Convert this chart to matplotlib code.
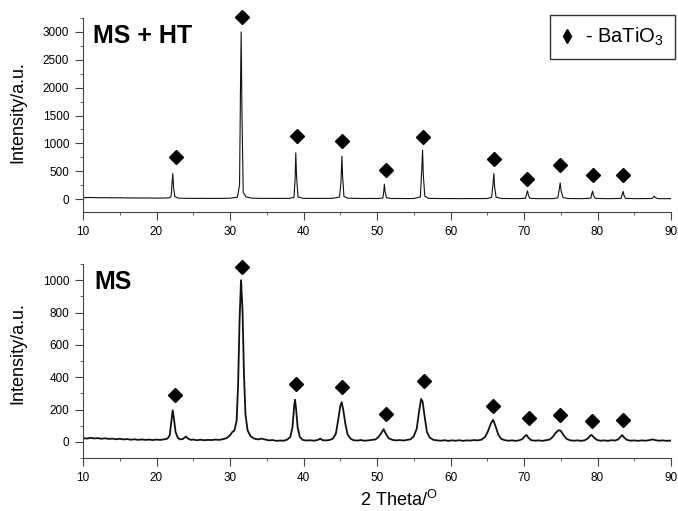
import matplotlib
matplotlib.use("Agg")
from matplotlib import pyplot as plt
from matplotlib.lines import Line2D
from matplotlib.ticker import MultipleLocator

plt.rcParams["font.family"] = ["Liberation Sans", "DejaVu Sans"]
plt.rcParams["mathtext.fontset"] = "custom"
plt.rcParams["mathtext.rm"] = "Liberation Sans"
plt.rcParams["mathtext.it"] = "Liberation Sans:italic"

# --- MS + HT pattern (sharp peaks), 2theta / intensity
tth_ht = [10, 11, 12, 13, 14, 15, 16, 17, 18, 19, 20, 21, 21.8,
          22.0, 22.12, 22.22, 22.32, 22.5, 23, 24, 25, 26, 27, 28, 29, 30, 31.0,
          31.3, 31.42, 31.52, 31.62, 31.8, 32.2, 33, 34, 35, 36, 37, 38, 38.7,
          38.85, 38.95, 39.05, 39.25, 40, 41, 42, 43, 44, 44.9,
          45.1, 45.22, 45.32, 45.5, 46, 47, 48, 49, 50, 50.8,
          50.92, 51.0, 51.1, 51.3, 52, 53, 54, 55, 55.9,
          56.08, 56.2, 56.3, 56.5, 57, 58, 59, 60, 61, 62, 63, 64, 65, 65.6,
          65.8, 65.9, 66.0, 66.2, 67, 68, 69, 70.2,
          70.38, 70.48, 70.6, 70.8, 72, 73, 74, 74.6,
          74.8, 74.92, 75.05, 75.3, 76, 77, 78, 79.1,
          79.25, 79.33, 79.45, 79.7, 81, 82, 83.2,
          83.4, 83.5, 83.6, 83.8, 85, 86, 87.4,
          87.62, 87.72, 87.85, 88.2, 89, 90]
int_ht = [28, 30, 26, 27, 24, 25, 22, 23, 20, 21, 19, 20, 24,
          60, 300, 460, 210, 45, 18, 15, 14, 15, 13, 14, 15, 18, 35,
          250, 1900, 3000, 1600, 120, 40, 18, 15, 14, 13, 14, 14, 30,
          330, 830, 420, 40, 15, 14, 13, 14, 16, 40,
          300, 772, 420, 50, 18, 14, 12, 13, 12, 20,
          140, 270, 140, 25, 12, 12, 11, 12, 40,
          500, 880, 440, 55, 16, 12, 11, 11, 10, 11, 10, 11, 12, 35,
          300, 461, 220, 35, 12, 11, 10, 15,
          110, 150, 70, 15, 10, 10, 11, 25,
          180, 293, 150, 30, 12, 10, 10, 18,
          110, 144, 70, 15, 10, 10, 15,
          100, 138, 70, 15, 10, 10, 12,
          40, 54, 30, 10, 9, 10]

# --- MS pattern (broad peaks)
tth_ms = [10, 10.5, 11, 11.5, 12, 12.5, 13, 13.5, 14, 14.5, 15, 15.5, 16, 16.5,
          17, 17.5, 18, 18.5, 19, 19.5, 20, 20.5, 21, 21.5,
          21.8, 22.0, 22.2, 22.35, 22.6, 22.9, 23.2, 23.6, 24.0, 24.3, 24.7,
          25, 25.5, 26, 26.5, 27, 27.5, 28, 28.5, 29, 29.5, 30, 30.3, 30.6,
          30.9, 31.1, 31.3, 31.5, 31.7, 31.9, 32.1, 32.4, 32.8, 33.3, 33.8,
          34.3, 34.8, 35.3, 35.8, 36.3, 36.8, 37.3, 37.8, 38.2, 38.5, 38.75,
          38.85, 39.0, 39.2, 39.5, 39.9, 40.4, 40.9, 41.4, 41.9, 42.3, 42.6,
          43.1, 43.6, 44.0, 44.4, 44.7, 45.0, 45.2, 45.4, 45.7, 46.0, 46.4,
          46.8, 47.3, 47.8, 48.3, 48.8, 49.3, 49.8, 50.2, 50.6, 50.9, 51.2,
          51.6, 52.1, 52.6, 53.1, 53.6, 54.1, 54.6, 55.0, 55.4, 55.7, 56.0,
          56.2, 56.5, 56.8, 57.2, 57.7, 58.2, 58.7, 59.2, 59.7, 60.2, 60.7,
          61.2, 61.7, 62.2, 62.7, 63.2, 63.7, 64.2, 64.7, 65.1, 65.5, 65.8,
          66.1, 66.5, 66.9, 67.4, 67.9, 68.4, 68.9, 69.4, 69.8, 70.1, 70.35,
          70.6, 71.0, 71.5, 72.0, 72.5, 73.0, 73.5, 73.9, 74.3, 74.7, 75.0,
          75.4, 75.8, 76.3, 76.8, 77.3, 77.8, 78.3, 78.7, 79.0, 79.2, 79.5,
          79.9, 80.4, 80.9, 81.4, 81.9, 82.4, 82.8, 83.1, 83.35, 83.6, 84.0,
          84.5, 85.0, 85.5, 86.0, 86.5, 87.0, 87.5, 87.9, 88.4, 88.9, 89.4, 90.0]
int_ms = [24, 20, 25, 21, 23, 19, 22, 18, 20, 16, 19, 15, 17, 13,
          16, 12, 15, 12, 14, 11, 14, 12, 15, 20,
          40, 120, 195, 150, 60, 25, 15, 18, 33, 20, 12,
          14, 10, 13, 10, 12, 11, 14, 12, 16, 22, 40, 60, 70,
          130, 350, 750, 1000, 820, 420, 170, 70, 35, 20, 15,
          20, 14, 9, 11, 6, 8, 7, 14, 30, 90, 230,
          260, 200, 90, 30, 12, 8, 10, 7, 11, 20, 10,
          9, 12, 20, 50, 130, 220, 245, 200, 110, 45, 20,
          10, 8, 11, 7, 9, 12, 15, 30, 55, 78, 50,
          22, 12, 9, 11, 8, 12, 16, 35, 80, 180, 265,
          250, 150, 60, 25, 12, 9, 7, 10, 6, 9, 7,
          10, 6, 9, 8, 11, 9, 13, 30, 65, 115, 136,
          100, 45, 18, 10, 7, 9, 6, 10, 18, 35, 42,
          25, 10, 7, 9, 6, 10, 14, 30, 55, 72, 68,
          40, 18, 9, 7, 9, 6, 10, 22, 38, 42, 28,
          12, 7, 9, 6, 10, 8, 15, 30, 42, 28, 12,
          7, 9, 6, 9, 7, 10, 15, 10, 7, 9, 6, 8]

# --- BaTiO3 reflection markers
mark_x_ht = [22.6, 31.6, 39.1, 45.2, 51.2, 56.3, 65.9, 70.4, 74.9, 79.4, 83.5]
mark_y_ht = [750, 3270, 1130, 1050, 530, 1110, 725, 370, 615, 430, 430]
mark_x_ms = [22.5, 31.7, 39.0, 45.3, 51.2, 56.4, 65.8, 70.7, 74.9, 79.2, 83.5]
mark_y_ms = [290, 1082, 360, 337, 173, 378, 222, 150, 167, 130, 136]

fig = plt.figure(figsize=(6.78, 5.11), dpi=100)
ax1 = fig.add_axes([83 / 678, 1 - 212 / 511, 588 / 678, 194 / 511])
ax2 = fig.add_axes([83 / 678, 1 - 458 / 511, 588 / 678, 194 / 511])

ax1.plot(tth_ht, int_ht, color="#111111", lw=0.8)
ax1.plot(mark_x_ht, mark_y_ht, "D", color="black", ms=7, ls="none", clip_on=False)
ax2.plot(tth_ms, int_ms, color="#111111", lw=1.3)
ax2.plot(mark_x_ms, mark_y_ms, "D", color="black", ms=7, ls="none", clip_on=False)

ax1.set_ylim(-230, 3250)
ax1.yaxis.set_major_locator(MultipleLocator(500))
ax1.yaxis.set_minor_locator(MultipleLocator(250))
ax2.set_ylim(-100, 1100)
ax2.yaxis.set_major_locator(MultipleLocator(200))
ax2.yaxis.set_minor_locator(MultipleLocator(100))

for ax in (ax1, ax2):
    ax.set_xlim(10, 90)
    ax.xaxis.set_major_locator(MultipleLocator(10))
    ax.xaxis.set_minor_locator(MultipleLocator(5))
    ax.spines["top"].set_visible(False)
    ax.spines["right"].set_visible(False)
    for s in ("left", "bottom"):
        ax.spines[s].set_color("#444444")
    ax.tick_params(which="both", direction="out", colors="#444444",
                   labelcolor="black", labelsize=8.5)
    ax.tick_params(which="major", length=6, pad=4)
    ax.tick_params(which="minor", length=2.5)

ax1.text(0.017, 0.97, "MS + HT", transform=ax1.transAxes, fontsize=18,
         fontweight="bold", va="top", ha="left")
ax2.text(0.02, 0.97, "MS", transform=ax2.transAxes, fontsize=18,
         fontweight="bold", va="top", ha="left")

fig.text(18 / 678, 1 - 112 / 511, "Intensity/a.u.", rotation=90,
         ha="center", va="center", fontsize=13)
fig.text(18 / 678, 1 - 353 / 511, "Intensity/a.u.", rotation=90,
         ha="center", va="center", fontsize=13)
fig.text(360 / 678, 5 / 511, "2 Theta/$^\\mathrm{O}$", ha="left",
         va="baseline", fontsize=13)

handle = Line2D([], [], marker="d", color="black", ls="none", ms=7)
ax1.legend([handle], ["- BaTiO$_3$"], loc="upper right",
           bbox_to_anchor=(675 / 678, 1 - 15 / 511),
           bbox_transform=fig.transFigure, fontsize=14.5, frameon=True,
           fancybox=False, edgecolor="#333333", framealpha=1,
           handlelength=0.6, handletextpad=0.6, borderpad=0.55,
           borderaxespad=0)

fig.savefig("out.png", dpi=100)
